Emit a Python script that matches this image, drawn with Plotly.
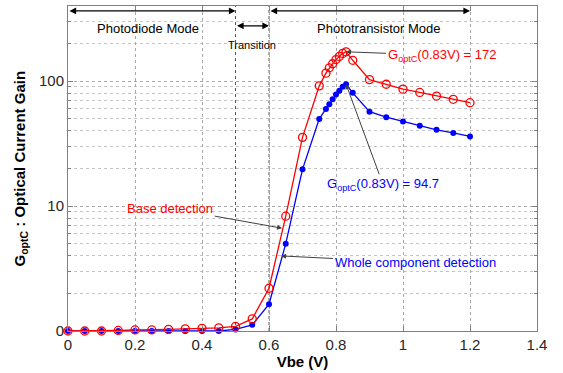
import plotly.graph_objects as go
import math

vbe = [0, 0.05, 0.1, 0.15, 0.2, 0.25, 0.3, 0.35, 0.4, 0.45, 0.5, 0.55, 0.6, 0.65, 0.7,
       0.75, 0.77, 0.78, 0.79, 0.8, 0.81, 0.82, 0.83, 0.85, 0.9, 0.95, 1.0, 1.05, 1.1, 1.15, 1.2]
base_gain = [1.0, 1.0, 1.0, 1.01, 1.02, 1.02, 1.03, 1.04, 1.05, 1.06, 1.09, 1.25, 2.2, 8.3, 35.5,
             91.8, 116, 128, 138, 149, 158, 167, 172, 147, 103, 94.5, 86.4, 81.3, 76, 71.6, 67.3]
whole_gain = [1.0, 1.0, 1.0, 1.0, 1.0, 1.0, 1.0, 1.0, 1.0, 1.0, 1.03, 1.12, 1.64, 5.0, 19.7,
              49.9, 60, 65.3, 71.6, 78.3, 83.8, 90.2, 94.7, 80.7, 57, 51.5, 47.5, 44, 40.8, 38.5, 36.1]

y_tickvals = [1, 10, 100]
y_ticktext = ["0", "10", "100"]
y_minor = [2, 3, 4, 5, 6, 7, 8, 9, 20, 30, 40, 50, 60, 70, 80, 90, 200, 300, 400]
x_tickvals = [0, 0.2, 0.4, 0.6, 0.8, 1.0, 1.2, 1.4]
x_ticktext = ["0", "0.2", "0.4", "0.6", "0.8", "1", "1.2", "1.4"]

RED = "#ff0000"
BLUE = "#0000ff"
AX = "#808080"
TXT = "#262626"
FONT = "Liberation Sans, Arial, sans-serif"

fig = go.Figure()
fig.add_trace(go.Scatter(x=vbe, y=whole_gain, mode="lines+markers",
                         line=dict(color=BLUE, width=1.3),
                         marker=dict(symbol="circle", size=6, color=BLUE),
                         cliponaxis=False, showlegend=False))
fig.add_trace(go.Scatter(x=vbe, y=base_gain, mode="lines+markers",
                         line=dict(color=RED, width=1.3),
                         marker=dict(symbol="circle-open", size=8, color=RED, line=dict(width=1.3)),
                         cliponaxis=False, showlegend=False))

# extra dotted vertical lines delimiting the transition region
for xv in [0.5, 0.6]:
    fig.add_shape(type="line", x0=xv, x1=xv, y0=0, y1=1, xref="x", yref="y domain",
                  line=dict(color="#555555", width=1, dash="dot"), layer="below")

def L(v):
    return math.log10(v)

ann = []
# mode arrows (double-headed)
def dbl_arrow(x0, x1, yp):
    ann.append(dict(x=x1, y=yp, ax=x0, ay=yp, xref="x", yref="y domain", axref="x", ayref="y domain",
                    text="", showarrow=True, arrowhead=2, startarrowhead=2, arrowside="end+start",
                    arrowsize=1.1, startarrowsize=1.1, arrowwidth=1.2, arrowcolor="black"))

dbl_arrow(0.0, 0.5, 0.985)
dbl_arrow(0.5, 0.6, 0.939)
dbl_arrow(0.6, 1.2, 0.985)
ann.append(dict(x=0.24, y=0.960, xref="x", yref="y domain", text="Photodiode Mode", showarrow=False,
                font=dict(size=13, color="black", family=FONT)))
ann.append(dict(x=0.55, y=0.905, xref="x", yref="y domain", text="Transition", showarrow=False,
                font=dict(size=11, color="black", family=FONT)))
ann.append(dict(x=0.928, y=0.960, xref="x", yref="y domain", text="Phototransistor Mode", showarrow=False,
                font=dict(size=13, color="black", family=FONT)))

# labels with pointer arrows: text centred at (tx, ty), arrow to the head point
def ptr_label(hx, hy_log, tx, ty_log, text, color):
    ann.append(dict(x=hx, y=hy_log, ax=tx, ay=ty_log, xref="x", yref="y", axref="x", ayref="y",
                    text=text, showarrow=True, arrowhead=2, arrowsize=1, arrowwidth=1,
                    arrowcolor="#404040", standoff=0, startstandoff=0,
                    font=dict(size=13, color=color, family=FONT)))

ptr_label(0.83, L(172), 1.115, 2.206, "G<sub>optC</sub>(0.83V) = 172", RED)
ptr_label(0.83, L(94.7), 0.940, 1.175, "G<sub>optC</sub>(0.83V) = 94.7", BLUE)
ptr_label(0.639, 0.823, 0.305, 0.984, "Base detection", RED)
ptr_label(0.636, 0.601, 1.036, 0.548, "Whole component detection", BLUE)

# y-axis title
ann.append(dict(x=(20 - 68) / 469, y=0.5, xref="paper", yref="paper", textangle=-90,
                xanchor="center", yanchor="middle",
                text="<b>G<sub>optC</sub> : Optical Current Gain</b>", showarrow=False,
                font=dict(size=15, color="black", family=FONT)))

fig.update_layout(
    width=563, height=373,
    margin=dict(l=68, r=26, t=5, b=40),
    paper_bgcolor="white", plot_bgcolor="white",
    font=dict(family=FONT, size=15, color=TXT),
    annotations=ann,
    showlegend=False,
)
fig.update_xaxes(range=[0, 1.4], tickmode="array", tickvals=x_tickvals, ticktext=x_ticktext,
                 showline=True, linecolor=AX, linewidth=1, mirror="ticks",
                 ticks="inside", ticklen=5, tickcolor=AX,
                 showgrid=True, gridcolor="#a8a8a8", griddash="dot", gridwidth=1,
                 zeroline=False, tickfont=dict(size=15, color=TXT),
                 title=dict(text="<b>Vbe (V)</b>", font=dict(size=15, color="black"), standoff=4))
fig.update_yaxes(type="log", range=[0, math.log10(400)], tickmode="array",
                 tickvals=y_tickvals, ticktext=y_ticktext,
                 showline=True, linecolor=AX, linewidth=1, mirror="ticks",
                 ticks="inside", ticklen=5, tickcolor=AX,
                 showgrid=True, gridcolor="#a8a8a8", griddash="dot", gridwidth=1,
                 minor=dict(tickmode="array", tickvals=y_minor, showgrid=True, gridcolor="#c4c4c4",
                            griddash="dot", ticks="inside", ticklen=3, tickcolor=AX),
                 zeroline=False, tickfont=dict(size=15, color=TXT))

fig.write_html("out.html")
